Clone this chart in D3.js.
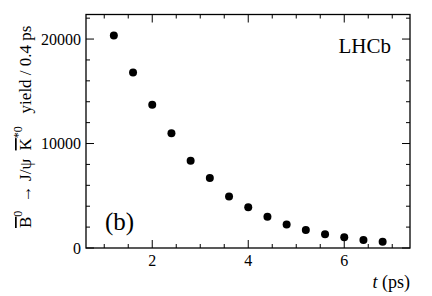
<!DOCTYPE html>
<html>
<head>
<meta charset="utf-8">
<script src="https://cdn.jsdelivr.net/npm/d3@7"></script>
<style>
  body { margin: 0; background: #fff; }
</style>
</head>
<body>
<div id="chart"></div>
<script>
// decay-time bins (ps) and fitted yields per 0.4 ps
var times = [1.2, 1.6, 2.0, 2.4, 2.8, 3.2, 3.6, 4.0, 4.4, 4.8, 5.2, 5.6, 6.0, 6.4, 6.8];
var yields = [20350, 16800, 13720, 10990, 8340, 6700, 4930, 3910, 2980, 2240, 1730, 1320, 1030, 770, 610];
var xTicks = [2, 4, 6];
var yTicks = [0, 10000, 20000];

(function () {
    var W = 432, H = 296;
    var left = 86, right = 410, top = 14.5, bottom = 248;

    var svg = d3.select("#chart").append("svg")
        .attr("width", W)
        .attr("height", H);

    var txt = function (sel) {
        return sel.append("text").style("font-family", "'Liberation Serif'").attr("fill", "#000");
    };

    var x = d3.scaleLinear().domain([0.62, 7.37]).range([left, right]);
    var y = d3.scaleLinear().domain([0, 22350]).range([bottom, top]);

    var xMinor = d3.range(1, 7.4, 0.5).filter(function (v) { return xTicks.indexOf(v) < 0; });
    var yMinor = d3.range(2000, 22350, 2000).filter(function (v) { return yTicks.indexOf(v) < 0; });

    var MAJ = 8, MIN = 4;
    var tickG = svg.append("g").attr("stroke", "#000").attr("stroke-width", 1);

    // x ticks (bottom + mirrored top)
    var addX = function (vals, len) {
        vals.forEach(function (v) {
            tickG.append("line").attr("x1", x(v)).attr("x2", x(v)).attr("y1", bottom).attr("y2", bottom - len);
            tickG.append("line").attr("x1", x(v)).attr("x2", x(v)).attr("y1", top).attr("y2", top + len);
        });
    };
    var addY = function (vals, len) {
        vals.forEach(function (v) {
            tickG.append("line").attr("x1", left).attr("x2", left + len).attr("y1", y(v)).attr("y2", y(v));
            tickG.append("line").attr("x1", right).attr("x2", right - len).attr("y1", y(v)).attr("y2", y(v));
        });
    };
    addX(xTicks, MAJ);
    addX(xMinor, MIN);
    addY(yTicks, MAJ);
    addY(yMinor, MIN);

    svg.append("rect")
        .attr("x", left).attr("y", top)
        .attr("width", right - left).attr("height", bottom - top)
        .attr("fill", "none").attr("stroke", "#000").attr("stroke-width", 1.3);

    // tick labels
    xTicks.forEach(function (d) {
        txt(svg).attr("x", x(d)).attr("y", 266)
            .attr("text-anchor", "middle")
            .attr("font-size", 16)
            .text(d);
    });
    yTicks.forEach(function (d) {
        txt(svg).attr("x", 81).attr("y", y(d) + 5.5)
            .attr("text-anchor", "end")
            .attr("font-size", 16)
            .text(d);
    });

    // data points
    svg.selectAll(".pt").data(times).enter().append("circle")
        .attr("cx", function (d) { return x(d); })
        .attr("cy", function (d, i) { return y(yields[i]); })
        .attr("r", 4)
        .attr("fill", "#000");

    txt(svg).attr("x", 391).attr("y", 53)
        .attr("text-anchor", "end")
        .attr("font-size", 21)
        .text("LHCb");

    txt(svg).attr("x", 105).attr("y", 230)
        .attr("font-size", 25)
        .text("(b)");

    var xl = txt(svg).attr("x", 410).attr("y", 288)
        .attr("text-anchor", "end")
        .attr("font-size", 18);
    xl.append("tspan").attr("font-style", "italic").text("t");
    xl.append("tspan").text(" (ps)");

    // y axis title, rotated
    var yl = txt(svg)
        .attr("transform", "translate(31," + 228 + ") rotate(-90)")
        .attr("font-size", 17)
        .attr("xml:space", "preserve");
    yl.append("tspan").attr("text-decoration", "overline").text("B");
    yl.append("tspan").attr("font-size", 12).attr("dy", -9).text("0");
    yl.append("tspan").attr("dy", 9).text("  \u2192 J/\u03C8  ");
    yl.append("tspan").attr("text-decoration", "overline").text("K");
    yl.append("tspan").attr("font-size", 12).attr("dy", -9).text("*0");
    yl.append("tspan").attr("dy", 9).text("   yield / 0.4 ps");
})();
</script>
</body>
</html>
